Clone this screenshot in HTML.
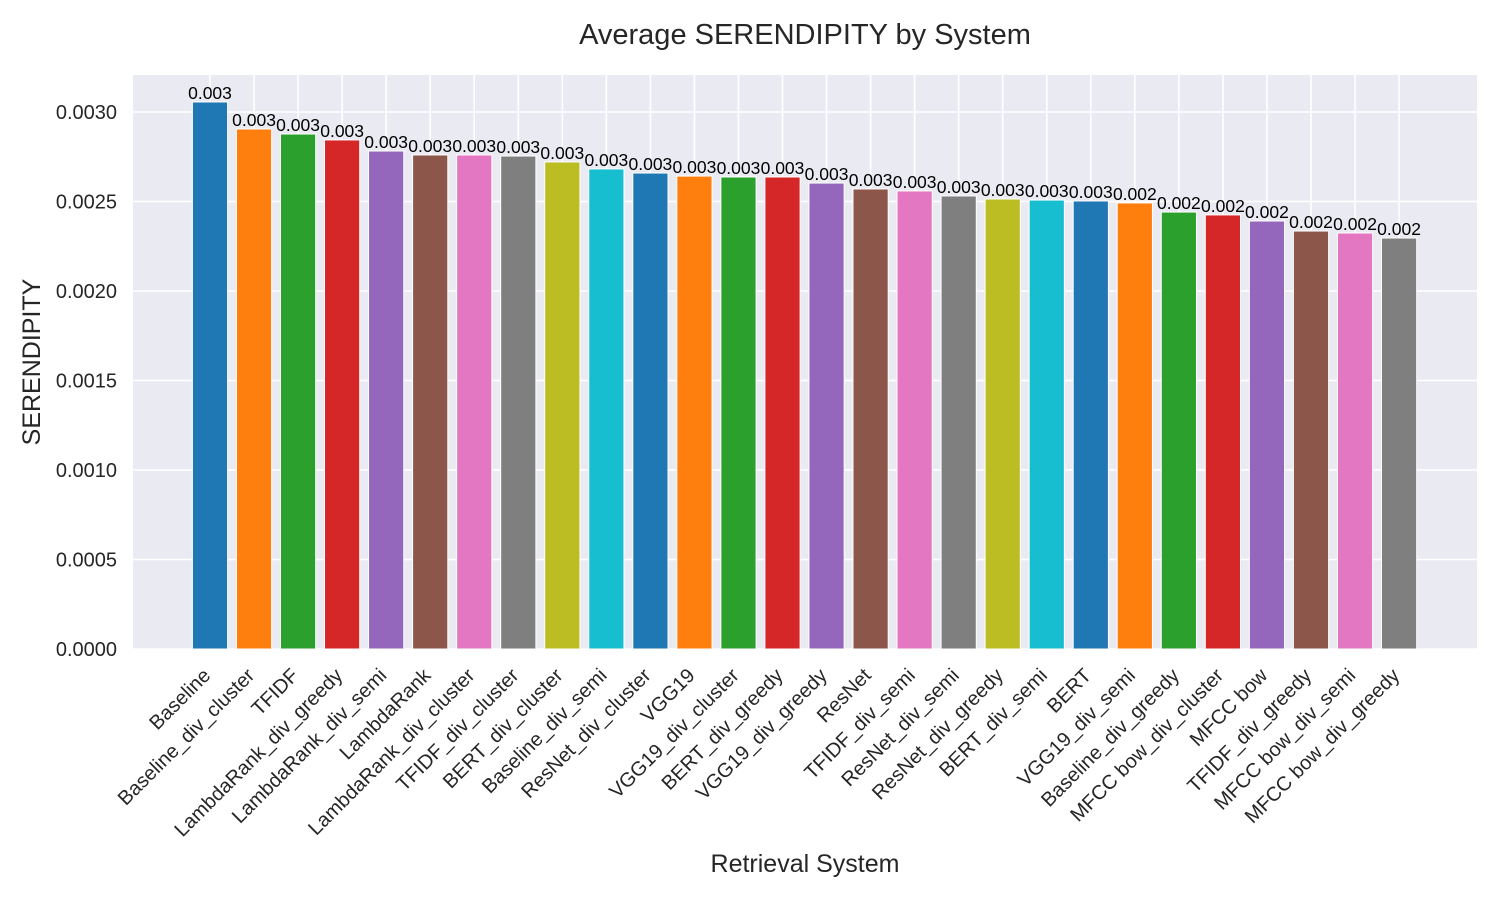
<!DOCTYPE html>
<html><head><meta charset="utf-8"><style>
body{margin:0;background:#fff;font-family:"Liberation Sans",sans-serif}
svg text{font-family:"Liberation Sans",sans-serif}
</style></head><body>
<svg id="chart" width="1500" height="900" xmlns="http://www.w3.org/2000/svg">
<rect x="0" y="0" width="1500" height="900" fill="#fff"/>
<rect x="133" y="75" width="1344" height="574" fill="#eaeaf2"/>
<g id="grid"></g><g id="bars"></g><g id="xt"></g><g id="yt"></g>
<text x="805" y="44" font-size="29" text-anchor="middle" fill="#262626">Average SERENDIPITY by System</text>
<text x="805" y="872" font-size="25" text-anchor="middle" fill="#262626">Retrieval System</text>
<text x="40" y="362" font-size="25" text-anchor="middle" fill="#262626" transform="rotate(-90 40 362)">SERENDIPITY</text>
</svg>
<script>
const categories=["Baseline","Baseline_div_cluster","TFIDF","LambdaRank_div_greedy","LambdaRank_div_semi","LambdaRank","LambdaRank_div_cluster","TFIDF_div_cluster","BERT_div_cluster","Baseline_div_semi","ResNet_div_cluster","VGG19","VGG19_div_cluster","BERT_div_greedy","VGG19_div_greedy","ResNet","TFIDF_div_semi","ResNet_div_semi","ResNet_div_greedy","BERT_div_semi","BERT","VGG19_div_semi","Baseline_div_greedy","MFCC bow_div_cluster","MFCC bow","TFIDF_div_greedy","MFCC bow_div_semi","MFCC bow_div_greedy"];
const values=[0.003056,0.002905,0.002877,0.002844,0.002782,0.00276,0.00276,0.002754,0.002721,0.002682,0.002659,0.002642,0.002637,0.002637,0.002603,0.00257,0.002559,0.002531,0.002514,0.002508,0.002503,0.002492,0.002441,0.002425,0.002391,0.002335,0.002324,0.002296];
const yTicks=[0,0.0005,0.001,0.0015,0.002,0.0025,0.003];
const palette=["#1f77b4","#ff7f0e","#2ca02c","#d62728","#9467bd","#8c564b","#e377c2","#7f7f7f","#bcbd22","#17becf"];
const NS="http://www.w3.org/2000/svg";
const y=v=>649-v/0.003*537;
const x=i=>210+i*44.04;
function mk(tag,attrs,parent,txt){const e=document.createElementNS(NS,tag);for(const k in attrs)e.setAttribute(k,attrs[k]);if(txt!=null)e.textContent=txt;document.getElementById(parent).appendChild(e);return e;}
yTicks.forEach(t=>{
 const g=mk("line",{x1:133,x2:1477,y1:y(t),y2:y(t),stroke:"#fff","stroke-width":1.6},"grid");
 
 
 const l=mk("text",{x:117,y:y(t)+7,"font-size":20,"text-anchor":"end",fill:"#262626"},"yt",t.toFixed(4));
 
 
});
categories.forEach((c,i)=>{
 const g=mk("line",{x1:x(i),x2:x(i),y1:75,y2:649,stroke:"#fff","stroke-width":1.6},"grid");
 
 
});
categories.forEach((c,i)=>{
 const v=values[i];
 const b=mk("rect",{x:x(i)-17.6,y:y(v),width:35.2,height:649-y(v),fill:palette[i%10],stroke:"#fff","stroke-width":1},"bars");
 
 
 const t=mk("text",{x:x(i),y:y(v)-3,"font-size":17.5,"text-anchor":"middle",fill:"#000"},"bars",v.toFixed(3));
 
 
 const ax=x(i)-8, ay=667;
 const xl=mk("text",{x:ax,y:ay,"font-size":20,"text-anchor":"end",fill:"#262626",transform:`rotate(-45 ${ax} ${ay})`,"dominant-baseline":"hanging"},"xt",c);
 
 
});
</script>
</body></html>
